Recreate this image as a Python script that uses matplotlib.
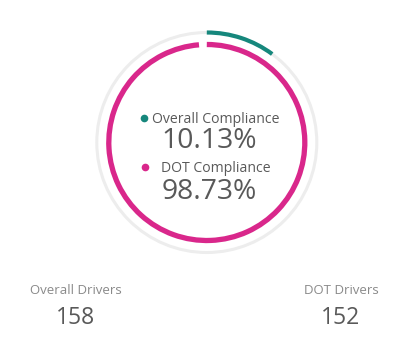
import matplotlib
matplotlib.use("Agg")
import matplotlib.pyplot as plt
from matplotlib.patches import Arc, Circle

series_names = ["Overall Compliance", "DOT Compliance"]
series_values = [10.13, 98.73]
series_colors = ["#16877c", "#d9278b"]
bottom_labels = ["Overall Drivers", "DOT Drivers"]
bottom_values = [158, 152]

W, H = 418, 352
fig = plt.figure(figsize=(W / 100, H / 100), dpi=100)
ax = fig.add_axes([0, 0, 1, 1])
ax.set_xlim(0, W)
ax.set_ylim(0, H)
ax.set_aspect("equal")
ax.axis("off")

cx, cy = 206.8, H - 142.5
radii = [110, 98]
widths = [3.0, 3.8]

# background track
ax.add_patch(Circle((cx, cy), radii[0], fill=False, edgecolor="#ededed", lw=2.2))

for v, r, c, lw in zip(series_values, radii, series_colors, widths):
    theta1 = 90 - 360 * v / 100
    ax.add_patch(Arc((cx, cy), 2 * r, 2 * r, theta1=theta1, theta2=90,
                     edgecolor=c, lw=lw))

font = "Open Sans"
txt = "#595959"
label_base = [H - 123, H - 172]
value_base = [H - 148, H - 199]
dot_pos = [(143.5, H - 118), (145, H - 167)]
label_cx = [215.5, 216]
for name, v, c, lb, vb, dp, lx in zip(series_names, series_values, series_colors,
                                      label_base, value_base, dot_pos, label_cx):
    ax.plot([dp[0]], [dp[1]], "o", color=c, ms=5.5, mec="none")
    ax.text(lx, lb, name, ha="center", va="baseline",
            fontsize=10.1, color=txt, family=font)
    ax.text(209, vb, f"{v:.2f}%", ha="center", va="baseline",
            fontsize=20.3, color=txt, family=font)

bx = [75.5, 341]
for lab, val, x in zip(bottom_labels, bottom_values, bx):
    ax.text(x, H - 294, lab, ha="center", va="baseline", fontsize=9.5,
            color="#8a8a8a", family=font)
    ax.text(x, H - 323.5, str(val), ha="center", va="baseline", fontsize=16.5,
            color=txt, family=font)

fig.savefig("out.png", dpi=100)
